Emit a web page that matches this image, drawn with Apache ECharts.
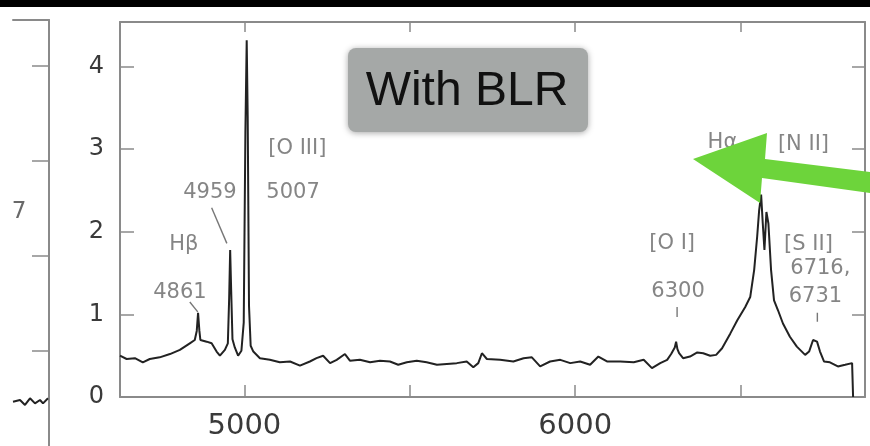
<!DOCTYPE html>
<html>
<head>
<meta charset="utf-8">
<script src="https://cdn.jsdelivr.net/npm/echarts@6/dist/echarts.min.js"></script>
<style>
html, body { margin: 0; padding: 0; background: #fff; }
#chart { width: 870px; height: 446px; }
</style>
</head>
<body>
<div id="chart"></div>
<script>
// spectrum: wavelength (A) and relative flux
var wavelength = [4624, 4644, 4669, 4693, 4714, 4744, 4775, 4805, 4835, 4850, 4856, 4860, 4864, 4867, 4886, 4901, 4916, 4926, 4941, 4950, 4954, 4957, 4960, 4964, 4971, 4981, 4991, 4998, 5003, 5007, 5010, 5014, 5019, 5027, 5047, 5077, 5107, 5138, 5168, 5198, 5218, 5238, 5259, 5279, 5304, 5319, 5349, 5380, 5410, 5440, 5465, 5491, 5521, 5551, 5582, 5612, 5642, 5672, 5692, 5707, 5718, 5733, 5773, 5813, 5844, 5869, 5894, 5924, 5955, 5985, 6015, 6045, 6070, 6096, 6136, 6177, 6207, 6232, 6257, 6278, 6290, 6301, 6305, 6309, 6314, 6326, 6347, 6369, 6387, 6408, 6426, 6444, 6469, 6490, 6514, 6529, 6541, 6550, 6556, 6562, 6567, 6572, 6578, 6584, 6592, 6601, 6613, 6628, 6649, 6670, 6695, 6707, 6719, 6731, 6740, 6752, 6770, 6794, 6816, 6837, 6840];
var flux = [0.50, 0.46, 0.47, 0.42, 0.46, 0.48, 0.52, 0.57, 0.65, 0.69, 0.80, 1.02, 0.80, 0.69, 0.67, 0.65, 0.55, 0.50, 0.57, 0.65, 1.20, 1.78, 1.30, 0.70, 0.60, 0.50, 0.56, 0.90, 3.20, 4.32, 3.40, 1.10, 0.62, 0.55, 0.47, 0.45, 0.42, 0.43, 0.38, 0.43, 0.47, 0.50, 0.41, 0.45, 0.52, 0.44, 0.45, 0.42, 0.44, 0.43, 0.39, 0.42, 0.44, 0.42, 0.39, 0.40, 0.41, 0.43, 0.36, 0.41, 0.53, 0.46, 0.45, 0.43, 0.47, 0.48, 0.37, 0.43, 0.45, 0.41, 0.43, 0.39, 0.49, 0.43, 0.43, 0.42, 0.45, 0.35, 0.41, 0.45, 0.52, 0.60, 0.67, 0.58, 0.53, 0.47, 0.49, 0.54, 0.53, 0.50, 0.51, 0.59, 0.77, 0.93, 1.09, 1.21, 1.54, 1.94, 2.26, 2.45, 2.10, 1.78, 2.24, 2.10, 1.54, 1.17, 1.05, 0.89, 0.73, 0.61, 0.51, 0.55, 0.69, 0.67, 0.55, 0.43, 0.42, 0.37, 0.39, 0.41, 0.00];

var xTicks = [5000, 5500, 6000, 6500];
var xLabels = [5000, 6000];
var yTicks = [1, 2, 3, 4];
var yLabels = [0, 1, 2, 3, 4];

// line identifications
var lineNames = ['[O III]', '4959', '5007', 'H\u03b2', '4861', '[O I]', '6300', 'H\u03b1', '[N II]', '[S II]', '6716,', '6731'];
var lineX = [5160, 4896, 5147, 4817, 4805, 6293, 6311, 6445, 6690, 6705, 6741, 6726];
var lineY = [3.01, 2.47, 2.47, 1.84, 1.27, 1.86, 1.28, 3.08, 3.06, 1.85, 1.56, 1.22];
var leaders = [
	[[4901, 2.29], [4947, 1.86]],
	[[4835, 1.15], [4859, 1.03]],
	[[6308, 1.09], [6308, 0.97]],
	[[6732, 1.02], [6732, 0.91]]
];

// sliver of the previous panel on the left
var leftX = [0, 7, 12, 17, 22, 27, 30, 35];
var leftY = [0.466, 0.484, 0.432, 0.502, 0.449, 0.484, 0.449, 0.502];

var frameColor = '#8a8a8a';
var chart = echarts.init(document.getElementById('chart'));

var spec = [];
for (var i = 0; i < wavelength.length; i++) {
	spec.push([wavelength[i], flux[i]]);
}
var labelData = [];
for (var j = 0; j < lineNames.length; j++) {
	labelData.push({ name: lineNames[j], value: [lineX[j], lineY[j]] });
}
var leftData = [];
for (var k = 0; k < leftX.length; k++) {
	leftData.push([leftX[k], leftY[k]]);
}

function frameLine() {
	return { show: true, onZero: false, lineStyle: { color: frameColor, width: 2 } };
}

var series = [{
	type: 'line',
	data: spec,
	showSymbol: false,
	symbol: 'none',
	lineStyle: { color: '#222', width: 2 },
	z: 3
}, {
	type: 'scatter',
	data: labelData,
	symbolSize: 0,
	label: {
		show: true,
		position: 'inside',
		formatter: '{b}',
		color: '#666',
		fontFamily: 'DejaVu Sans',
		fontSize: 21
	},
	z: 4
}, {
	type: 'line',
	xAxisIndex: 2,
	yAxisIndex: 2,
	data: leftData,
	showSymbol: false,
	symbol: 'none',
	lineStyle: { color: '#222', width: 2 }
}, {
	type: 'scatter',
	xAxisIndex: 2,
	yAxisIndex: 2,
	data: [{ name: '7', value: [6, 2.46] }],
	symbolSize: 0,
	label: {
		show: true,
		position: 'inside',
		formatter: '{b}',
		color: '#444',
		fontFamily: 'DejaVu Sans',
		fontSize: 23
	}
}];
leaders.forEach(function(seg) {
	series.push({
		type: 'line',
		data: seg,
		showSymbol: false,
		symbol: 'none',
		lineStyle: { color: '#777', width: 1.4 },
		z: 4
	});
});

option = {
	animation: false,
	backgroundColor: '#fff',
	grid: [
		{ left: 120, right: 5, top: 22, bottom: 49 },
		{ left: 13, width: 36, top: 20, bottom: 0 }
	],
	xAxis: [{
		type: 'value',
		gridIndex: 0,
		min: 4624,
		max: 6876,
		axisLine: frameLine(),
		axisTick: { show: true, inside: true, length: 12, customValues: xTicks, lineStyle: { color: frameColor, width: 1.5 } },
		axisLabel: {
			customValues: xLabels,
			formatter: function(v) { return String(v); },
			fontSize: 29, color: '#3a3a3a', fontFamily: 'DejaVu Sans', margin: 15
		},
		splitLine: { show: false }
	}, {
		type: 'value',
		gridIndex: 0,
		position: 'top',
		min: 4624,
		max: 6876,
		axisLine: frameLine(),
		axisTick: { show: true, inside: true, length: 10, customValues: xTicks, lineStyle: { color: frameColor, width: 1.5 } },
		axisLabel: { show: false },
		splitLine: { show: false }
	}, {
		type: 'value',
		gridIndex: 1,
		position: 'top',
		min: 0,
		max: 36,
		axisLine: frameLine(),
		axisTick: { show: false },
		axisLabel: { show: false },
		splitLine: { show: false }
	}],
	yAxis: [{
		type: 'value',
		gridIndex: 0,
		min: 0,
		max: 4.54,
		axisLine: frameLine(),
		axisTick: { show: true, inside: true, length: 14, customValues: yTicks, lineStyle: { color: frameColor, width: 1.5 } },
		axisLabel: { customValues: yLabels, fontSize: 24, color: '#3a3a3a', fontFamily: 'DejaVu Sans', margin: 16 },
		splitLine: { show: false }
	}, {
		type: 'value',
		gridIndex: 0,
		position: 'right',
		min: 0,
		max: 4.54,
		axisLine: frameLine(),
		axisTick: { show: true, inside: true, length: 13, customValues: yTicks, lineStyle: { color: frameColor, width: 1.5 } },
		axisLabel: { show: false },
		splitLine: { show: false }
	}, {
		type: 'value',
		gridIndex: 1,
		position: 'right',
		min: 0,
		max: 4.484,
		axisLine: frameLine(),
		axisTick: { show: true, inside: true, length: 17, customValues: yTicks, lineStyle: { color: frameColor, width: 1.5 } },
		axisLabel: { show: false },
		splitLine: { show: false }
	}],
	graphic: [{
		type: 'rect',
		z: 100,
		shape: { x: 0, y: 0, width: 870, height: 7 },
		style: { fill: '#000' }
	}, {
		type: 'rect',
		z: 100,
		shape: { x: 348, y: 48, width: 240, height: 84, r: 8 },
		style: { fill: '#a5a8a7', shadowBlur: 6, shadowColor: 'rgba(0,0,0,0.35)', shadowOffsetY: 1 }
	}, {
		type: 'text',
		z: 101,
		x: 467,
		y: 92,
		style: {
			text: 'With BLR',
			fill: '#111',
			font: '48px "Liberation Sans", Arial, sans-serif',
			align: 'center',
			verticalAlign: 'middle'
		}
	}, {
		type: 'polygon',
		z: 102,
		shape: {
			points: [[693, 159], [767, 133], [765, 159], [870, 172], [870, 193], [762, 178], [760, 203]]
		},
		style: { fill: '#6dd43b' }
	}],
	series: series
};
chart.setOption(option);
</script>
</body>
</html>
